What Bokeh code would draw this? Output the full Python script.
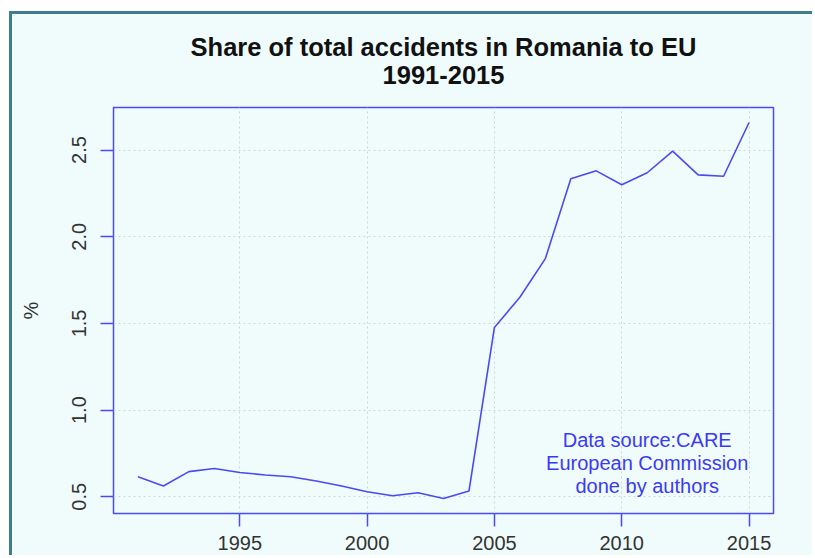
from bokeh.plotting import figure
from bokeh.models import FixedTicker, Label, Range1d, PrintfTickFormatter, Title
from bokeh.embed import file_html
from bokeh.resources import INLINE

years = list(range(1991, 2016))
share = [0.616, 0.562, 0.645, 0.663, 0.640, 0.626, 0.616, 0.591, 0.562, 0.529,
         0.506, 0.523, 0.490, 0.533, 1.477, 1.651, 1.874, 2.335, 2.380, 2.300,
         2.369, 2.494, 2.357, 2.349, 2.659]
x_ticks = [1995, 2000, 2005, 2010, 2015]
y_ticks = [0.5, 1.0, 1.5, 2.0, 2.5]
title_lines = ["Share of total accidents in Romania to EU", "1991-2015"]
note_lines = ["Data source:CARE", "European Commission", "done by authors"]

BG = "#f0fcfc"
BLUE = "#4a4af2"
FONT = "Liberation Sans"

p = figure(width=803, height=544, output_backend="svg", toolbar_location=None,
           x_range=Range1d(1990.04, 2015.96), y_range=Range1d(0.4036, 2.7454),
           min_border_left=101, min_border_right=42, min_border_top=93,
           min_border_bottom=45,
           background_fill_color=BG, border_fill_color=BG,
           outline_line_color=BLUE, outline_line_width=1.5)
p.margin = (11, 0, 0, 9)
p.styles = {"border-left": "3px solid #3b7e8c", "border-top": "3px solid #3b7e8c"}

# spacer between frame and title
p.add_layout(Title(text=" ", text_font_size="1px", standoff=16), "above")
p.title.text = "\n".join(title_lines)
p.title.text_font = FONT
p.title.text_font_size = "25.5px"
p.title.text_font_style = "bold"
p.title.align = "center"
p.title.text_align = "center"
p.title.text_line_height = 1.0
p.title.text_color = "#111111"
p.title.standoff = 0

for ax in (p.xaxis[0], p.yaxis[0]):
    ax.axis_line_color = None
    ax.major_tick_line_color = BLUE
    ax.major_tick_line_width = 1.5
    ax.major_tick_out = 13
    ax.major_tick_in = 0
    ax.minor_tick_line_color = None
    ax.major_label_text_font = FONT
    ax.major_label_text_font_size = "20px"
    ax.major_label_text_color = "#333333"

p.xaxis[0].ticker = FixedTicker(ticks=x_ticks)
p.yaxis[0].ticker = FixedTicker(ticks=y_ticks)
p.yaxis[0].formatter = PrintfTickFormatter(format="%.1f")
p.xaxis[0].major_label_standoff = 9
p.yaxis[0].major_label_standoff = 14
p.yaxis[0].major_label_orientation = "vertical"
p.yaxis[0].axis_label = "%"
p.yaxis[0].axis_label_text_font = FONT
p.yaxis[0].axis_label_text_font_size = "20px"
p.yaxis[0].axis_label_text_font_style = "normal"
p.yaxis[0].axis_label_text_color = "#333333"
p.yaxis[0].axis_label_standoff = 28

p.grid.grid_line_color = "#cfd6d6"
p.grid.grid_line_dash = "2 3"
p.grid.grid_line_width = 1

p.line(years, share, line_color=BLUE, line_width=1.6)

for i, t in enumerate(note_lines):
    p.add_layout(Label(x=2011.0, y=[0.83, 0.695, 0.56][i], text=t,
                       text_align="center", text_baseline="middle",
                       text_font=FONT, text_font_size="20px",
                       text_color="#3a3af5"))

open("out.html", "w").write(file_html(p, INLINE))
